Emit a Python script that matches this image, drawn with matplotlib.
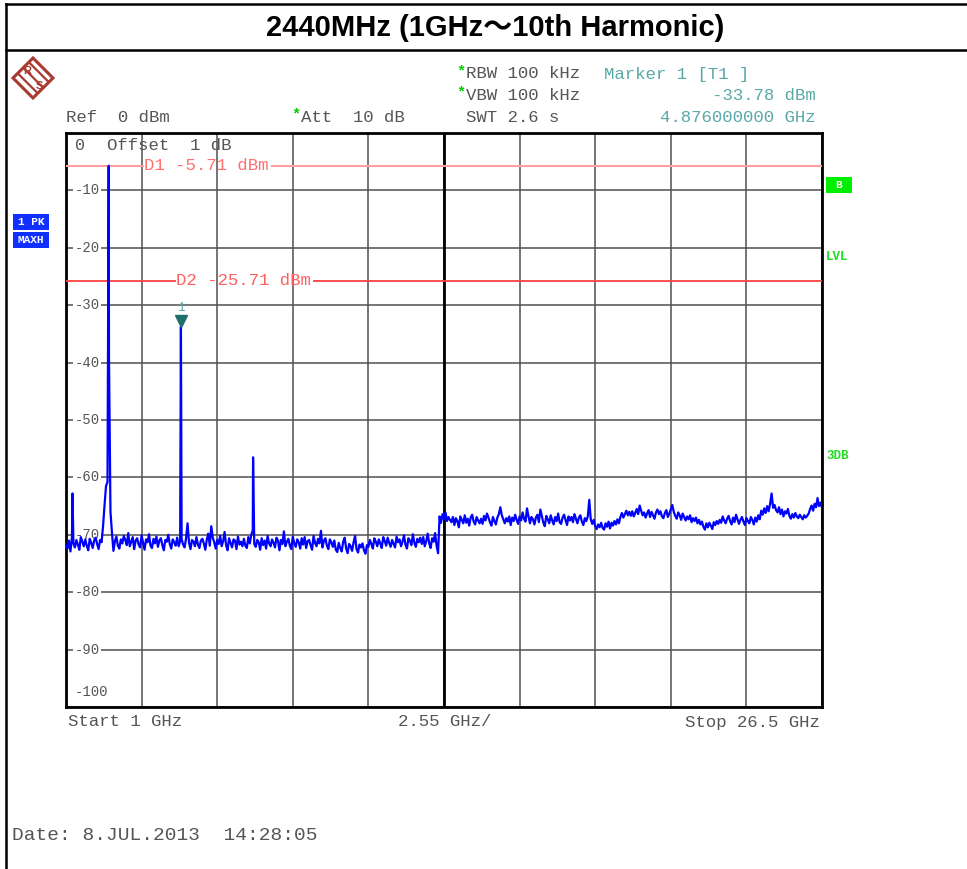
import numpy as np
import matplotlib
matplotlib.use('Agg')
import matplotlib.pyplot as plt
import matplotlib.transforms as mtransforms
from matplotlib.patches import Rectangle, Polygon

# spectrum trace, 1 GHz .. 26.5 GHz, 0.05 GHz step
trace_rows = [
    # 1.00 - 1.95
    [-71.8, -72.4, -71.0, -72.9, -70.6, -71.5, -72.2, -70.9, -71.7, -72.6,
     -70.4, -71.2, -72.0, -70.8, -71.9, -72.7, -70.7, -71.4, -72.3, -71.0],
    # 2.00 - 2.95 (carrier skirt)
    [-70.5, -71.6, -72.5, -70.9, -71.3, -68.5, -64.8, -61.5, -60.8, -39.0,
     -66.0, -69.6, -72.8, -71.1, -70.3, -71.9, -72.4, -70.8, -71.5, -70.2],
    [-70.9, -71.8, -69.7, -72.0, -71.2, -70.4, -72.5, -71.0, -70.6, -71.7,
     -72.2, -70.1, -71.4, -72.6, -70.8, -71.3, -69.9, -71.9, -72.3, -70.7],
    [-71.5, -70.3, -72.1, -71.0, -70.6, -71.8, -72.7, -70.9, -71.2, -70.0,
     -71.6, -72.4, -70.8, -71.3, -71.9, -70.5, -72.0, -71.1, -70.7, -71.7],
    [-72.2, -70.6, -68.0, -71.4, -72.5, -70.9, -71.2, -72.0, -70.4, -71.7,
     -72.3, -71.0, -70.7, -71.5, -72.6, -70.8, -69.8, -71.9, -68.5, -70.5],
    [-71.3, -72.4, -70.9, -71.6, -70.2, -72.0, -71.1, -69.5, -71.8, -72.7,
     -70.6, -71.4, -72.2, -70.8, -71.0, -72.5, -70.3, -71.7, -71.2, -72.0],
    [-70.7, -71.9, -72.3, -70.4, -71.5, -70.0, -69.2, -71.6, -72.1, -70.9,
     -71.3, -72.6, -70.6, -71.8, -71.0, -72.4, -70.2, -71.5, -72.0, -70.8],
    [-71.4, -72.2, -70.5, -71.0, -72.7, -70.9, -71.6, -69.4, -72.0, -71.2,
     -70.7, -71.9, -72.5, -70.3, -71.5, -72.1, -70.8, -71.3, -72.4, -70.6],
    [-71.7, -70.4, -72.3, -71.1, -70.9, -71.8, -72.6, -70.2, -71.4, -72.0,
     -70.7, -71.5, -69.3, -72.2, -71.0, -70.6, -71.9, -72.5, -70.8, -71.3],
    [-72.1, -71.0, -72.6, -73.0, -71.4, -72.3, -72.9, -71.2, -70.5, -72.4,
     -73.2, -71.6, -72.0, -72.8, -71.3, -70.2, -72.5, -73.1, -71.7, -72.2],
    [-71.5, -72.7, -73.3, -71.8, -72.1, -70.9, -71.6, -72.4, -70.6, -71.2,
     -72.0, -70.8, -71.5, -72.3, -70.4, -71.1, -71.9, -70.5, -71.4, -72.1],
    [-70.9, -71.6, -72.2, -70.3, -71.3, -70.8, -72.0, -71.2, -70.1, -71.7,
     -72.4, -70.6, -71.0, -71.8, -69.9, -71.4, -72.1, -70.7, -71.3, -70.5],
    # 13.00 - 13.95 (step up of the floor at 13.6 GHz)
    [-71.6, -70.4, -72.0, -71.1, -69.8, -71.5, -72.3, -70.6, -71.2, -69.7,
     -71.9, -73.2, -66.8, -67.9, -66.4, -67.2, -66.1, -67.6, -66.9, -67.4],
    [-67.8, -66.9, -68.3, -67.1, -67.6, -68.7, -66.8, -67.4, -68.0, -66.6,
     -67.9, -67.2, -68.4, -67.0, -66.5, -67.7, -68.2, -66.9, -67.5, -68.0],
    [-67.2, -68.1, -66.7, -67.5, -66.3, -67.0, -67.8, -68.4, -66.9, -67.6,
     -68.2, -67.0, -66.4, -65.2, -66.6, -67.3, -68.0, -67.1, -67.7, -66.8],
    [-68.3, -67.0, -67.6, -66.5, -67.4, -68.1, -66.8, -67.5, -66.1, -67.2,
     -67.7, -65.4, -66.8, -68.0, -66.9, -67.3, -68.2, -67.0, -66.5, -67.8],
    [-65.6, -66.7, -67.9, -68.5, -66.7, -67.3, -68.0, -66.6, -67.5, -68.2,
     -66.9, -67.6, -66.3, -67.8, -68.1, -67.0, -66.5, -67.4, -68.3, -66.8],
    [-67.5, -66.9, -67.8, -66.4, -67.2, -68.0, -67.0, -66.6, -67.7, -68.3,
     -67.1, -67.6, -66.8, -63.9, -67.3, -68.1, -67.4, -68.5, -69.0, -68.2],
    [-68.7, -67.9, -68.8, -69.1, -68.0, -68.6, -67.7, -68.9, -67.9, -68.4,
     -67.6, -68.2, -67.3, -68.0, -66.9, -66.2, -67.0, -66.4, -65.8, -66.6],
    [-66.0, -66.7, -65.9, -66.8, -66.2, -65.5, -66.4, -64.9, -65.8, -66.6,
     -66.1, -67.0, -66.3, -65.7, -66.9, -66.0, -66.6, -67.2, -66.1, -65.6],
    [-66.4, -65.9, -66.8, -67.1, -66.2, -65.7, -66.9, -66.3, -65.6, -64.8,
     -66.0, -66.7, -67.2, -66.1, -66.6, -67.4, -66.3, -66.9, -67.5, -66.8],
    [-67.3, -66.6, -67.8, -67.1, -67.6, -67.0, -68.0, -67.4, -68.2, -67.7,
     -68.6, -69.1, -68.0, -68.7, -67.9, -68.4, -69.0, -67.8, -68.3, -67.6],
    [-68.1, -67.4, -67.9, -66.8, -67.5, -68.0, -67.2, -66.7, -67.6, -68.2,
     -67.0, -67.8, -66.5, -67.3, -68.1, -67.4, -66.9, -67.7, -68.3, -67.1],
    [-67.6, -68.0, -66.9, -67.4, -68.2, -67.0, -67.7, -66.6, -67.3, -65.8,
     -66.5, -65.4, -66.2, -65.0, -65.9, -64.6, -62.8, -65.3, -64.8, -65.7],
    [-66.1, -65.2, -66.4, -65.6, -66.8, -65.9, -66.3, -65.5, -66.7, -67.2,
     -66.4, -67.0, -66.2, -66.8, -67.1, -66.5, -66.9, -67.3, -66.6, -67.0],
    # 26.00 - 26.50
    [-66.7, -66.3, -65.5, -64.9, -65.8, -64.6, -65.2, -63.6, -65.0, -64.4, -65.3],
]
trace_freq = np.round(np.arange(1.0, 26.5001, 0.05), 2)
trace_lvl = np.concatenate([np.array(r) for r in trace_rows])

# narrow spurs / harmonics (GHz, dBm)
spur_freq = [1.22, 2.44, 4.876, 7.31]
spur_lvl = [-62.8, -5.71, -33.78, -56.5]

marker_freq = 4.876
marker_lvl = -33.78
d1_lvl = -5.71
d2_lvl = -25.71

start_ghz, stop_ghz, span_div = 1.0, 26.5, 2.55
ylabels = [-10, -20, -30, -40, -50, -60, -70, -80, -90]

matplotlib.rcParams['hatch.color'] = '#a83a30'
matplotlib.rcParams['hatch.linewidth'] = 1.6

W, H = 967, 869
fig = plt.figure(figsize=(W / 100, H / 100), dpi=100)
mono = 'Liberation Mono'
grey = '#555555'
teal = '#5aa8a8'


def fx(x):
    return x / W


def fy(y):
    return 1 - y / H


# frame / title box
fig.add_artist(plt.Line2D([fx(6), 1], [fy(3.5), fy(3.5)], color='black', lw=1.8))
fig.add_artist(plt.Line2D([fx(6), 1], [fy(50), fy(50)], color='black', lw=1.8))
fig.add_artist(plt.Line2D([fx(6), fx(6)], [fy(3.5), 0], color='black', lw=1.8))
fig.text(fx(495), fy(28), '2440MHz (1GHz\uff5e10th Harmonic)', ha='center', va='center',
         fontsize=21, fontweight='bold', family=['Liberation Sans', 'Noto Sans CJK JP'])

# plot area
ax = fig.add_axes([fx(66), fy(707), fx(756), 574 / H])
ax.set_xlim(start_ghz, stop_ghz)
ax.set_ylim(-100, 0)
ax.set_xticks(np.arange(start_ghz, stop_ghz + 0.01, span_div))
ax.set_yticks(np.arange(-100, 1, 10))
ax.grid(True, color='#505050', lw=1.1)
ax.tick_params(length=0, labelbottom=False, labelleft=False)
ax.axvline(start_ghz + 5 * span_div, color='black', lw=2)
for s in ax.spines.values():
    s.set_linewidth(2)

f_all = np.concatenate([trace_freq, spur_freq])
l_all = np.concatenate([trace_lvl, spur_lvl])
order = np.argsort(f_all)
ax.plot(f_all[order], l_all[order], color='#0000ff', lw=1.6, zorder=5)

# display lines
ax.axhline(d1_lvl, xmax=0.102, color='#ffa0a0', lw=1.5, zorder=3)
ax.axhline(d1_lvl, xmin=0.272, color='#ffa0a0', lw=1.5, zorder=3)
ax.axhline(d2_lvl, xmax=0.144, color='#ff4040', lw=1.3, zorder=3)
ax.axhline(d2_lvl, xmin=0.328, color='#ff4040', lw=1.3, zorder=3)
bt = mtransforms.blended_transform_factory(ax.transAxes, ax.transData)
ax.text(0.103, d1_lvl, 'D1 -5.71 dBm', transform=bt, va='center', ha='left',
        fontsize=12.5, family=mono, color='#ff7070', zorder=4)
ax.text(0.145, d2_lvl, 'D2 -25.71 dBm', transform=bt, va='center', ha='left',
        fontsize=12.5, family=mono, color='#ff6060', zorder=4)

# marker
mk = mtransforms.offset_copy(ax.transData, fig=fig, y=6, units='dots')
ax.plot([marker_freq], [marker_lvl], marker='v', color='#1f6f6a', ms=8, transform=mk, zorder=6)
mk2 = mtransforms.offset_copy(ax.transData, fig=fig, y=13, units='dots')
ax.text(marker_freq, marker_lvl, '1', transform=mk2, ha='center', va='bottom',
        fontsize=9, family=mono, color=teal)

# level labels inside the grid
for v in ylabels:
    ax.text(0.011, v, '%d' % v, transform=bt, va='center', ha='left', fontsize=10,
            family=mono, color=grey, zorder=4,
            bbox=dict(facecolor='white', edgecolor='none', pad=1))
low = mtransforms.offset_copy(bt, fig=fig, y=8, units='dots')
ax.text(0.011, -100, '-100', transform=low, va='bottom', ha='left', fontsize=10,
        family=mono, color=grey)
top = mtransforms.offset_copy(bt, fig=fig, y=-12, units='dots')
ax.text(0.012, 0, '0', transform=top, va='center', ha='left', fontsize=12, family=mono, color=grey)
ax.text(0.054, 0, 'Offset  1 dB', transform=top, va='center', ha='left', fontsize=12.5,
        family=mono, color=grey)

# header texts
hs = 12.5
fig.text(fx(66), fy(117), 'Ref  0 dBm', fontsize=hs, family=mono, color=grey, va='center')
fig.text(fx(301), fy(117), 'Att  10 dB', fontsize=hs, family=mono, color=grey, va='center')
fig.text(fx(466), fy(74), 'RBW 100 kHz', fontsize=hs, family=mono, color=grey, va='center')
fig.text(fx(466), fy(95), 'VBW 100 kHz', fontsize=hs, family=mono, color=grey, va='center')
fig.text(fx(466), fy(117), 'SWT 2.6 s', fontsize=hs, family=mono, color=grey, va='center')
for (x, y) in [(291, 114), (456, 71), (456, 92)]:
    fig.text(fx(x), fy(y), '*', fontsize=11, family=mono, color='#00cc00', va='center',
             fontweight='bold')
fig.text(fx(604), fy(74), 'Marker 1 [T1 ]', fontsize=hs, family=mono, color=teal, va='center')
fig.text(fx(816), fy(95), '%.2f dBm' % marker_lvl, fontsize=hs, family=mono, color=teal,
         va='center', ha='right')
fig.text(fx(816), fy(117), '%.9f GHz' % marker_freq, fontsize=hs, family=mono, color=teal,
         va='center', ha='right')

# side flags
for (y0, lab) in [(214, '1 PK'), (232, 'MAXH')]:
    fig.add_artist(Rectangle((fx(13), fy(y0 + 16)), fx(36), 16 / H, transform=fig.transFigure,
                             facecolor='#1030ff', edgecolor='none'))
    fig.text(fx(31), fy(y0 + 8), lab, fontsize=8, family=mono, color='white',
             fontweight='bold', ha='center', va='center')
fig.add_artist(Rectangle((fx(826), fy(193)), fx(26), 16 / H, transform=fig.transFigure,
                         facecolor='#00ee00', edgecolor='none'))
fig.text(fx(839), fy(185), 'B', fontsize=8, family=mono, color='white', fontweight='bold',
         ha='center', va='center')
fig.text(fx(826), fy(257), 'LVL', fontsize=9, family=mono, color='#22dd22', fontweight='bold',
         va='center')
fig.text(fx(826), fy(456), '3DB', fontsize=9, family=mono, color='#22dd22', fontweight='bold',
         va='center')

# R&S logo
cx, cy, r = 33, 78, 20
dia = Polygon([(fx(cx), fy(cy - r)), (fx(cx + r), fy(cy)), (fx(cx), fy(cy + r)), (fx(cx - r), fy(cy))],
              closed=True, transform=fig.transFigure, facecolor='white', edgecolor='#a83a30',
              lw=2.2, hatch='\\\\\\')
fig.add_artist(dia)
fig.text(fx(27), fy(71), 'R', fontsize=8, color='#a83a30', ha='center', va='center',
         family='Liberation Sans', fontweight='bold')
fig.text(fx(39), fy(86), 'S', fontsize=8, color='#a83a30', ha='center', va='center',
         family='Liberation Sans', fontweight='bold')

# bottom texts
fig.text(fx(68), fy(722), 'Start 1 GHz', fontsize=hs, family=mono, color=grey, va='center')
fig.text(fx(398), fy(722), '2.55 GHz/', fontsize=hs, family=mono, color=grey, va='center')
fig.text(fx(820), fy(722), 'Stop 26.5 GHz', fontsize=hs, family=mono, color=grey, va='center',
         ha='right')
fig.text(fx(12), fy(835), 'Date: 8.JUL.2013  14:28:05', fontsize=14, family=mono, color=grey,
         va='center')

fig.savefig('out.png', dpi=100)
